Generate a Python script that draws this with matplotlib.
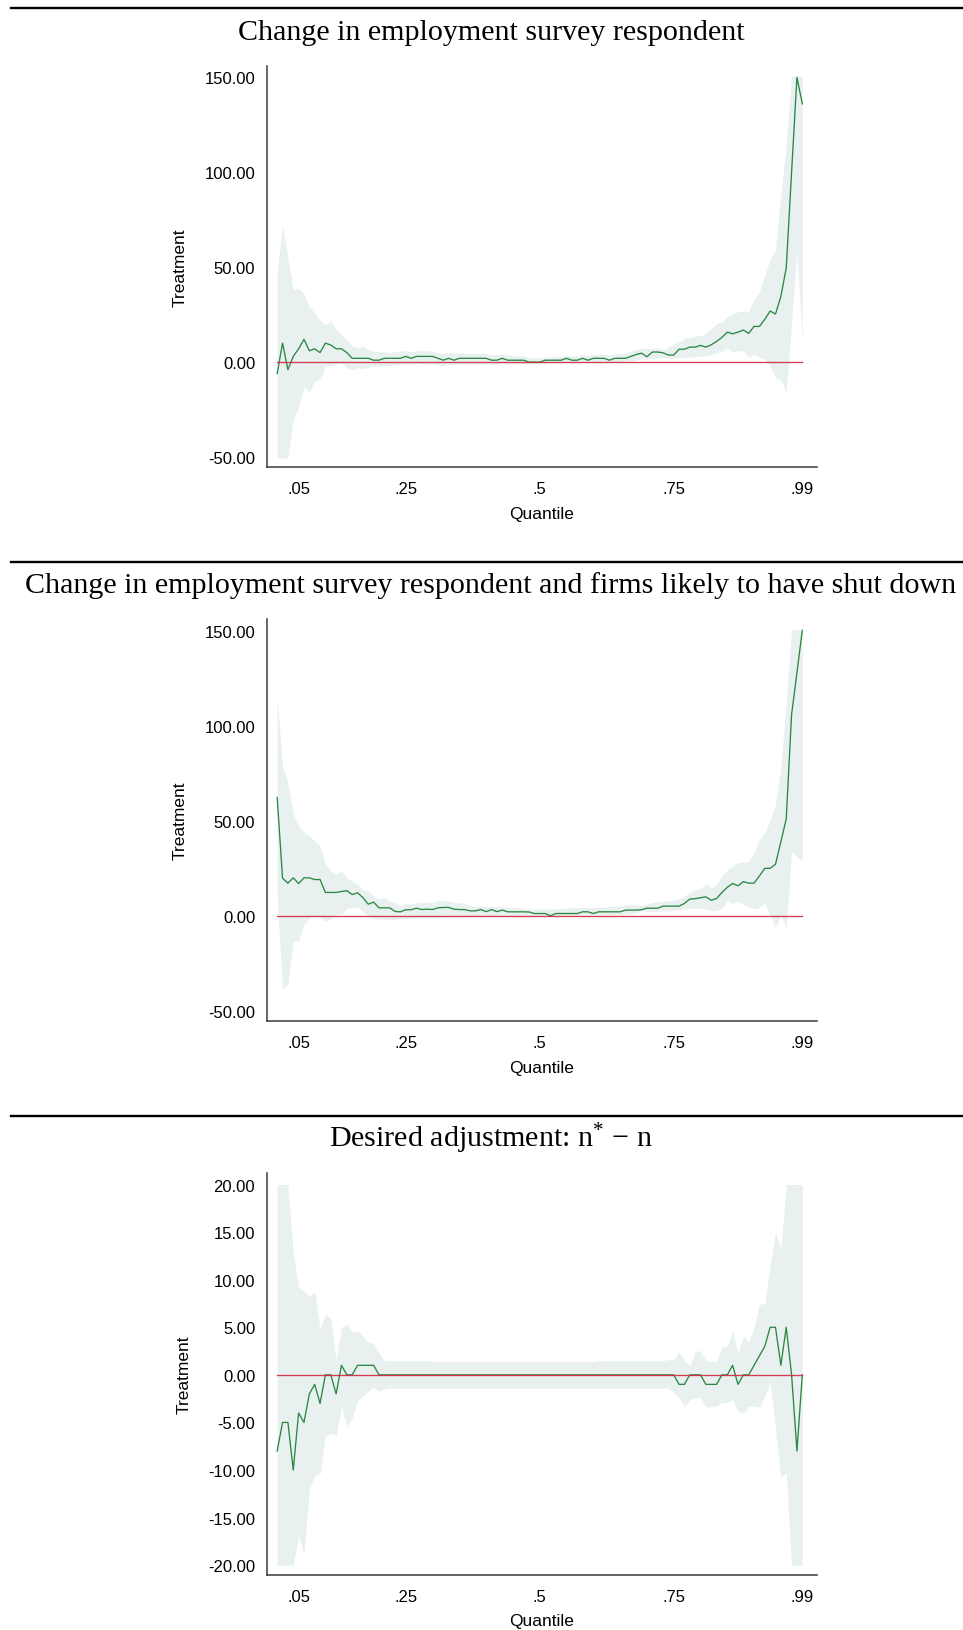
import matplotlib
matplotlib.use("Agg")
import matplotlib.pyplot as plt
from matplotlib.lines import Line2D
import numpy as np

# ---------------- data ----------------
quantiles = [round(0.01 * k, 2) for k in range(1, 100)]

titles = [
    "Change in employment survey respondent",
    "Change in employment survey respondent and firms likely to have shut down",
    r"Desired adjustment: $\mathregular{n^{*}\,-\,n}$",
]

p1_est = [-6, 10, -4, 3, 7, 12, 6, 7, 5, 10,
          9, 7, 7, 5, 2, 2, 2, 2, 1, 1,
          2, 2, 2, 2, 3, 2, 3, 3, 3, 3,
          2, 1, 2, 1, 2, 2, 2, 2, 2, 2,
          1, 1, 2, 1, 1, 1, 1, 0, 0, 0,
          1, 1, 1, 1, 2, 1, 1, 2, 1, 2,
          2, 2, 1, 2, 2, 2, 3, 4, 4.7, 2.8,
          5.3, 5.3, 4.9, 3.7, 3.7, 6.8, 6.8, 7.9, 7.9, 8.8,
          7.9, 9.1, 10.9, 13.0, 15.8, 14.9, 15.8, 16.9, 15.1, 18.8,
          18.8, 22.5, 26.9, 25.3, 34.6, 49.5, 100, 150, 136]
p1_hi = [48, 72, 55, 38, 39, 36, 29, 26, 22, 19.5,
         21.6, 17.3, 14.6, 12, 8.4, 7.4, 8.4, 6.7, 5.8, 5.5,
         5.5, 5.0, 5.5, 5.8, 6.0, 5.5, 6.0, 6.2, 6.0, 5.8,
         5.0, 4.5, 4.8, 4.5, 4.8, 4.8, 4.6, 4.6, 4.5, 4.5,
         4.0, 4.0, 4.2, 3.8, 3.5, 3.3, 3.2, 2.5, 2.3, 2.3,
         2.8, 2.8, 2.8, 3.0, 3.5, 3.2, 3.2, 3.8, 3.5, 4.0,
         4.0, 4.2, 3.8, 4.2, 4.5, 4.8, 5.5, 6.5, 7.4, 7.0,
         7.0, 7.5, 6.5, 8.0, 9.5, 10.5, 12.6, 13.0, 13.5, 14.0,
         15.0, 17.5, 20.3, 21.0, 24.0, 25.5, 26.5, 27.0, 26.7, 33.0,
         37.0, 46.0, 54.0, 59.0, 88.0, 115, 150.5, 150.5, 150.5]
p1_lo = [-50.4, -50.4, -50.4, -30, -24, -12.6, -16.2, -10, -9.1, -2.1,
         -2.0, -1.2, -0.4, -3.0, -4.2, -3.0, -3.5, -2.6, -2.0, -2.0,
         -1.8, -2.0, -1.5, -1.2, -1.0, -1.5, -0.5, -1.0, -1.2, -1.0,
         -1.5, -2.0, -1.0, -1.5, -1.0, -1.2, -1.0, -1.0, -1.2, -1.0,
         -1.2, -1.2, -0.8, -1.0, -1.0, -0.8, -0.8, -1.0, -1.0, -0.8,
         -0.6, -0.6, -0.5, -0.5, -0.2, -0.5, -0.5, -0.2, -0.5, 0.0,
         0.0, 0.0, -0.3, 0.0, 0.2, 0.3, 0.8, 1.0, 2.1, 1.5,
         2.0, 2.5, 2.5, 2.0, 2.0, 2.5, 2.5, 2.6, 2.8, 3.0,
         3.5, 3.9, 5.0, 6.0, 7.4, 5.3, 6.0, 6.0, 2.5, 4.0,
         2.5, 1.5, -2.3, -8.4, -9.5, -16, 21, 58, 10.5]

p2_est = [62.3, 19.8, 17.2, 20, 17, 20, 20, 19.1, 19.1, 12.3,
          12.3, 12.3, 12.8, 13.2, 11.2, 12.1, 9.6, 6.1, 7.2, 4.2,
          4.2, 4.2, 2.3, 2.1, 3.2, 3.2, 4.0, 3.3, 3.5, 3.3,
          4.2, 4.4, 4.4, 3.5, 3.3, 3.3, 2.6, 2.6, 3.3, 2.2,
          3.3, 2.2, 3.0, 2.1, 2.1, 2.1, 2.1, 2.0, 1.2, 1.2,
          1.2, 0.0, 1.2, 1.2, 1.2, 1.2, 1.2, 2.1, 2.1, 1.2,
          2.1, 2.1, 2.1, 2.1, 2.1, 3.0, 3.0, 3.0, 3.2, 4.0,
          4.0, 4.0, 5.1, 5.1, 5.1, 5.1, 6.5, 8.8, 9.0, 9.5,
          10.0, 8.2, 9.1, 12.3, 15.0, 17.0, 15.8, 18.0, 17.2, 17.2,
          21.0, 25.0, 25.0, 27.2, 39.0, 51.0, 106, 128, 150.4]
p2_hi = [115, 79, 70, 53.5, 47.4, 43.9, 42.1, 39.5, 36.8, 27.2,
         23.7, 21.9, 23.7, 20.2, 18.4, 16.7, 13.7, 13.2, 10.5, 8.8,
         9.6, 7.9, 6.7, 5.3, 6.5, 6.1, 6.8, 7.2, 7.0, 7.0,
         8.2, 8.2, 7.5, 7.0, 7.0, 6.5, 5.5, 5.0, 5.0, 4.8,
         5.0, 4.8, 4.6, 4.5, 4.4, 4.2, 4.0, 3.8, 3.5, 3.5,
         3.5, 3.5, 3.6, 3.8, 4.0, 4.2, 4.4, 4.4, 4.4, 4.4,
         4.5, 4.6, 4.8, 5.0, 5.2, 5.5, 6.0, 6.0, 5.3, 6.2,
         7.0, 7.2, 7.5, 7.9, 8.3, 8.8, 10.5, 12.3, 13.5, 14.6,
         16.7, 14.6, 16.7, 21.0, 24.0, 26.3, 28.0, 28.3, 28.6, 33.3,
         40.0, 44.0, 50.0, 58.8, 78.0, 113, 150.5, 150.5, 150.5]
p2_lo = [10, -38.6, -36, -13.2, -13.2, -4.4, -0.9, 0.0, -0.9, -2.6,
         -1.8, 0.9, 0.9, 3.9, 4.4, 4.4, 2.3, -0.4, -1.4, -1.8,
         -1.8, -2.1, -1.8, -1.5, -1.5, -1.2, -1.0, -0.9, -0.9, -0.9,
         -0.9, -0.8, -0.8, -0.6, -0.5, -0.5, -0.4, -0.4, -0.4, -0.4,
         -0.4, -0.4, -0.3, -0.3, -0.3, -0.3, -0.2, -0.2, -0.2, -0.2,
         -0.2, -0.3, 0.2, 0.3, 0.3, 0.3, 0.3, 0.4, 0.4, 0.4,
         0.5, 0.5, 0.6, 0.6, 0.7, 0.8, 1.0, 1.5, 2.6, 2.5,
         2.3, 2.3, 2.5, 2.6, 3.0, 3.2, 3.5, 3.9, 4.0, 4.0,
         3.5, 2.6, 2.6, 4.0, 7.9, 6.5, 7.5, 6.0, 4.9, 3.5,
         4.4, 7.0, 0.0, -5.8, 0.0, -6.5, 34.0, 31.0, 29.0]

p3_est = [-8, -5, -5, -10, -4, -5, -2, -1, -3, 0,
          0, -2, 1, 0, 0, 1, 1, 1, 1, 0,
          0, 0, 0, 0, 0, 0, 0, 0, 0, 0,
          0, 0, 0, 0, 0, 0, 0, 0, 0, 0,
          0, 0, 0, 0, 0, 0, 0, 0, 0, 0,
          0, 0, 0, 0, 0, 0, 0, 0, 0, 0,
          0, 0, 0, 0, 0, 0, 0, 0, 0, 0,
          0, 0, 0, 0, 0, -1, -1, 0, 0, 0,
          -1, -1, -1, 0, 0, 1, -1, 0, 0, 1,
          2, 3, 5, 5, 1, 5, 0, -8, 0]
p3_hi = [20, 20, 20, 12.7, 9.2, 8.8, 8.3, 8.7, 4.8, 6.4,
         5.9, 1.5, 5.0, 5.3, 4.5, 4.6, 4.0, 3.4, 3.3, 2.3,
         1.5, 1.5, 1.5, 1.5, 1.5, 1.5, 1.5, 1.5, 1.5, 1.4,
         1.4, 1.4, 1.4, 1.4, 1.4, 1.4, 1.4, 1.4, 1.4, 1.4,
         1.4, 1.4, 1.4, 1.4, 1.4, 1.4, 1.4, 1.4, 1.4, 1.4,
         1.4, 1.4, 1.4, 1.4, 1.4, 1.4, 1.4, 1.4, 1.4, 1.4,
         1.5, 1.5, 1.5, 1.5, 1.5, 1.5, 1.5, 1.5, 1.5, 1.5,
         1.5, 1.5, 1.5, 1.6, 1.6, 2.4, 1.5, 0.9, 2.5, 2.5,
         1.5, 1.4, 1.4, 2.9, 3.0, 4.6, 2.2, 4.1, 3.4, 5.0,
         7.4, 7.5, 11.5, 15.0, 13.2, 20, 20, 20, 20]
p3_lo = [-20, -20, -20, -20, -16.9, -18.9, -12.0, -10.6, -10.4, -6.4,
         -6.1, -6.4, -3.4, -5.4, -4.5, -2.7, -2.2, -1.7, -1.3, -1.7,
         -1.5, -1.4, -1.4, -1.4, -1.4, -1.4, -1.4, -1.4, -1.4, -1.4,
         -1.4, -1.4, -1.4, -1.4, -1.4, -1.4, -1.4, -1.4, -1.4, -1.4,
         -1.4, -1.4, -1.4, -1.4, -1.4, -1.4, -1.4, -1.4, -1.4, -1.4,
         -1.4, -1.4, -1.4, -1.4, -1.4, -1.4, -1.4, -1.4, -1.4, -1.4,
         -1.4, -1.4, -1.4, -1.4, -1.4, -1.4, -1.4, -1.4, -1.4, -1.4,
         -1.4, -1.4, -1.4, -1.4, -1.8, -2.4, -3.4, -2.6, -2.4, -2.4,
         -3.4, -3.3, -3.3, -2.9, -2.9, -2.6, -3.8, -4.0, -3.3, -3.3,
         -3.4, -2.2, -0.8, -5.7, -10.8, -10.3, -20, -20, -20]

x_ticks = [0.05, 0.25, 0.5, 0.75, 0.99]
x_ticklabels = [".05", ".25", ".5", ".75", ".99"]
y_ticks_12 = [-50, 0, 50, 100, 150]
y_ticks_3 = [-20, -15, -10, -5, 0, 5, 10, 15, 20]

panels = [
    (titles[0], p1_est, p1_lo, p1_hi, y_ticks_12, (-55.4, 156.1)),
    (titles[1], p2_est, p2_lo, p2_hi, y_ticks_12, (-55.4, 156.1)),
    (titles[2], p3_est, p3_lo, p3_hi, y_ticks_3, (-21.0, 21.2)),
]

# ---------------- style ----------------
plt.rcParams["font.family"] = ["Liberation Sans", "DejaVu Sans"]
plt.rcParams["mathtext.fontset"] = "stix"

W, H = 963, 1631
fig = plt.figure(figsize=(W / 100, H / 100), dpi=100)
fig.patch.set_facecolor("white")

band_color = "#e8f1f0"
green = "#2b8742"
red = "#d3283d"
spine_col = "#3a3a3a"

panel_shift = 553.7
axes_top0 = 66.7
axes_h = 401.6
rule_y0 = 9.3
title_base0 = 39.5

for k, (title, est, lo, hi, yt, ylim) in enumerate(panels):
    off = k * panel_shift
    # horizontal rule
    ry = 1 - (rule_y0 + off) / H
    fig.add_artist(Line2D([11 / W, 1.0], [ry, ry], transform=fig.transFigure,
                          color="black", lw=1.7))
    # title
    fig.text(491 / W, 1 - (title_base0 + off) / H, title,
             ha="center", va="baseline", fontsize=21.6,
             family=["Liberation Serif", "DejaVu Serif"], color="black")
    # axes
    top = axes_top0 + off
    ax = fig.add_axes([267 / W, 1 - (top + axes_h) / H, (816.5 - 267) / W, axes_h / H])
    q = np.array(quantiles)
    ax.fill_between(q, lo, hi, color=band_color, lw=0, zorder=1)
    ax.plot(q, est, color=green, lw=0.95, zorder=3)
    ax.plot([quantiles[0], quantiles[-1]], [0, 0], color=red, lw=0.95, zorder=4, alpha=0.9)
    ax.set_xlim(-0.009, 1.0165)
    ax.set_ylim(*ylim)
    ax.set_xticks(x_ticks)
    ax.set_xticklabels(x_ticklabels)
    ax.set_yticks(yt)
    ax.set_yticklabels([f"{v:.2f}" for v in yt])
    ax.tick_params(axis="both", length=0, labelsize=12, colors="black")
    ax.tick_params(axis="y", pad=8.5)
    ax.tick_params(axis="x", pad=10)
    for s in ["top", "right"]:
        ax.spines[s].set_visible(False)
    for s in ["left", "bottom"]:
        ax.spines[s].set_color(spine_col)
        ax.spines[s].set_linewidth(1.1)
    ax.set_xlabel("Quantile", fontsize=12.5, labelpad=7)
    ax.set_ylabel("Treatment", fontsize=12.5, labelpad=12)
    ax.set_facecolor("white")

fig.savefig("out.png", dpi=100, facecolor="white")
